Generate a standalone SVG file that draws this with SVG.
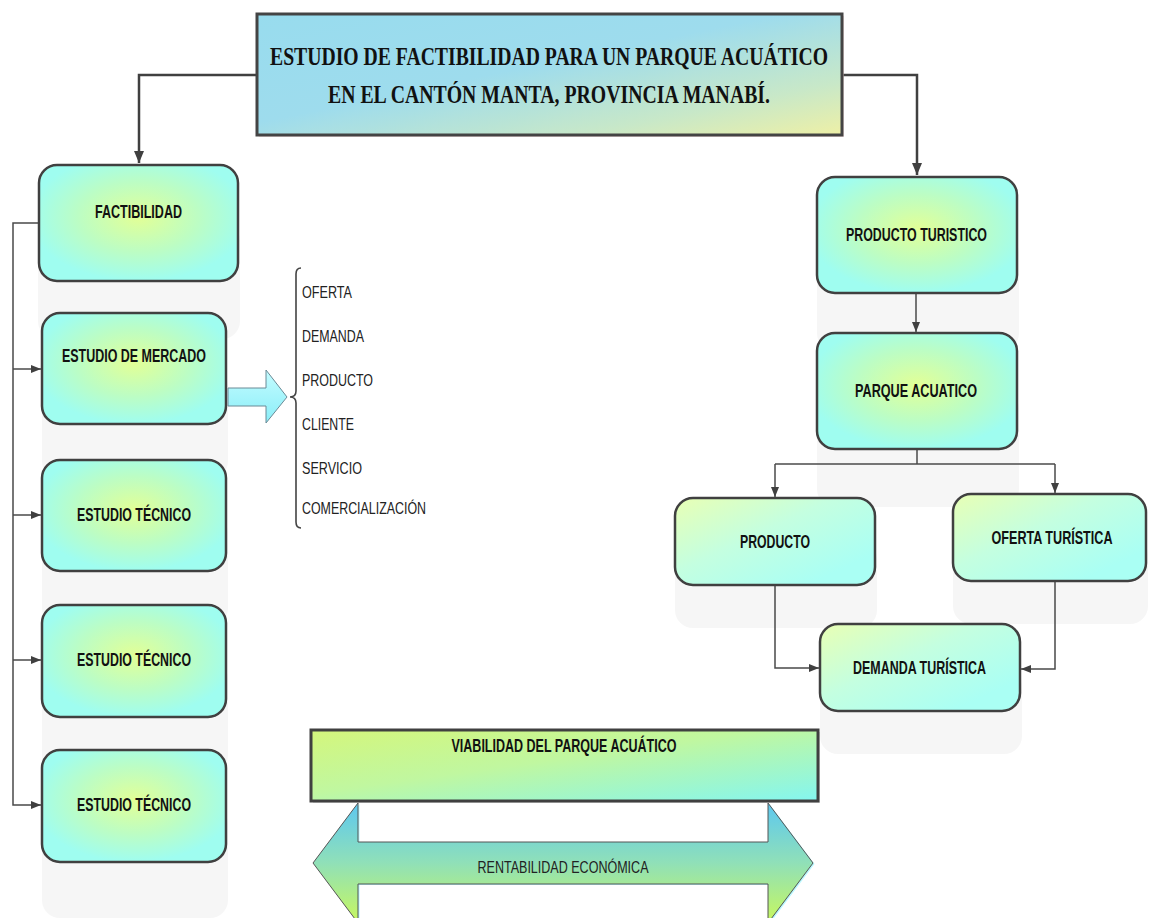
<svg xmlns="http://www.w3.org/2000/svg" width="1150" height="918" viewBox="0 0 1150 918">
  <defs>
    <radialGradient id="gRadial" cx="0.5" cy="0.45" r="0.55">
      <stop offset="0" stop-color="#e2ff96"/>
      <stop offset="0.55" stop-color="#bcfdc4"/>
      <stop offset="1" stop-color="#9ffdf0"/>
    </radialGradient>
    <linearGradient id="gLinear" x1="0" y1="0" x2="0.85" y2="0.8">
      <stop offset="0" stop-color="#e8ffb4"/>
      <stop offset="0.5" stop-color="#c4ffe0"/>
      <stop offset="1" stop-color="#aafff4"/>
    </linearGradient>
    <linearGradient id="gTitle" x1="0" y1="0" x2="1" y2="1">
      <stop offset="0" stop-color="#98dcee"/>
      <stop offset="0.45" stop-color="#9edced"/>
      <stop offset="0.78" stop-color="#c8e8c8"/>
      <stop offset="1" stop-color="#eef0a6"/>
    </linearGradient>
    <linearGradient id="gViab" x1="0" y1="0" x2="1" y2="1">
      <stop offset="0" stop-color="#d4f67c"/>
      <stop offset="0.45" stop-color="#c0f7a0"/>
      <stop offset="1" stop-color="#84f6f0"/>
    </linearGradient>
    <linearGradient id="gDouble" gradientUnits="userSpaceOnUse" x1="0" y1="803" x2="0" y2="923">
      <stop offset="0" stop-color="#5cc8f0"/>
      <stop offset="0.5" stop-color="#90e0b8"/>
      <stop offset="1" stop-color="#c8f85e"/>
    </linearGradient>
    <linearGradient id="gBlock" x1="0" y1="0" x2="0" y2="1">
      <stop offset="0" stop-color="#c4fcff"/>
      <stop offset="1" stop-color="#8aeef8"/>
    </linearGradient>
    <marker id="arrow" viewBox="0 0 10 10" refX="10" refY="5" markerWidth="10" markerHeight="10" markerUnits="userSpaceOnUse" orient="auto">
      <path d="M0,1 L10,5 L0,9 Z" fill="#404040"/>
    </marker>
    <marker id="arrowBig" viewBox="0 0 12 12" refX="12" refY="6" markerWidth="12" markerHeight="12" markerUnits="userSpaceOnUse" orient="auto">
      <path d="M0,1 L12,6 L0,11 Z" fill="#404040"/>
    </marker>
  </defs>
  <style>
    .shadow { fill: #f6f6f6; }
    .box { stroke: #404040; stroke-width: 2.5; }
    .rad { fill: url(#gRadial); }
    .lin { fill: url(#gLinear); }
    .lbl { font-family: "Liberation Sans Narrow", "Liberation Sans", Arial, sans-serif; font-weight: bold; font-size: 18px; fill: #111; text-anchor: middle; }
    .item { font-family: "Liberation Sans Narrow", "Liberation Sans", Arial, sans-serif; font-size: 17px; fill: #222; }
    .title { font-family: "Liberation Serif", "Times New Roman", serif; font-weight: bold; font-size: 25px; fill: #111; text-anchor: middle; }
    .conn { fill: none; stroke: #4a4a4a; stroke-width: 1.5; }
    .connThick { fill: none; stroke: #404040; stroke-width: 2.5; }
  </style>

  <!-- soft reflections beneath the boxes -->
  <g id="shadows">
    <rect class="shadow" x="38" y="223" width="202" height="116" rx="18"/>
    <rect class="shadow" x="42" y="368" width="186" height="111" rx="18"/>
    <rect class="shadow" x="42" y="515" width="186" height="111" rx="18"/>
    <rect class="shadow" x="42" y="661" width="186" height="112" rx="18"/>
    <rect class="shadow" x="42" y="806" width="186" height="112" rx="18"/>
    <rect class="shadow" x="817" y="235" width="202" height="116" rx="18"/>
    <rect class="shadow" x="817" y="391" width="202" height="116" rx="18"/>
    <rect class="shadow" x="675" y="541" width="202" height="87" rx="18"/>
    <rect class="shadow" x="953" y="537" width="195" height="87" rx="18"/>
    <rect class="shadow" x="820" y="667" width="202" height="87" rx="18"/>
  </g>

  <!-- connectors -->
  <g id="connectors">
    <path class="connThick" d="M257,75 H139 V163" marker-end="url(#arrowBig)"/>
    <path class="connThick" d="M842,75 H917 V175" marker-end="url(#arrowBig)"/>
    <path class="conn" d="M39,223 H13 V805 H41" marker-end="url(#arrow)"/>
    <path class="conn" d="M13,369 H41" marker-end="url(#arrow)"/>
    <path class="conn" d="M13,515 H41" marker-end="url(#arrow)"/>
    <path class="conn" d="M13,660 H41" marker-end="url(#arrow)"/>
    <path class="conn" d="M916,293 V332" marker-end="url(#arrow)"/>
    <path class="conn" d="M917,449 V464"/>
    <path class="conn" d="M775,464 H1055"/>
    <path class="conn" d="M775,464 V497" marker-end="url(#arrow)"/>
    <path class="conn" d="M1055,464 V493" marker-end="url(#arrow)"/>
    <path class="conn" d="M775,585 V668 H819" marker-end="url(#arrow)"/>
    <path class="conn" d="M1055,581 V669 H1021" marker-end="url(#arrow)"/>
  </g>

  <!-- title -->
  <g id="title">
    <rect x="259" y="16" width="585" height="121" fill="#f2d0d0" opacity="0.6"/>
    <rect x="257" y="14" width="585" height="121" fill="url(#gTitle)" stroke="#444" stroke-width="3"/>
    <text class="title" x="549" y="65" textLength="558" lengthAdjust="spacingAndGlyphs">ESTUDIO DE FACTIBILIDAD PARA UN PARQUE ACUÁTICO</text>
    <text class="title" x="549" y="103" textLength="442" lengthAdjust="spacingAndGlyphs">EN EL CANTÓN MANTA, PROVINCIA MANABÍ.</text>
  </g>

  <!-- left column -->
  <g id="factibilidad">
    <rect class="box rad" x="39" y="165" width="199" height="116" rx="18"/>
    <text class="lbl" x="138.5" y="218" textLength="87" lengthAdjust="spacingAndGlyphs">FACTIBILIDAD</text>
  </g>
  <g id="estudio-mercado">
    <rect class="box rad" x="42" y="313" width="184" height="111" rx="18"/>
    <text class="lbl" x="134" y="362" textLength="144" lengthAdjust="spacingAndGlyphs">ESTUDIO DE MERCADO</text>
  </g>
  <g id="estudio-tecnico-1">
    <rect class="box rad" x="42" y="460" width="184" height="111" rx="18"/>
    <text class="lbl" x="134" y="521" textLength="114" lengthAdjust="spacingAndGlyphs">ESTUDIO TÉCNICO</text>
  </g>
  <g id="estudio-tecnico-2">
    <rect class="box rad" x="42" y="605" width="184" height="112" rx="18"/>
    <text class="lbl" x="134" y="666" textLength="114" lengthAdjust="spacingAndGlyphs">ESTUDIO TÉCNICO</text>
  </g>
  <g id="estudio-tecnico-3">
    <rect class="box rad" x="42" y="750" width="184" height="112" rx="18"/>
    <text class="lbl" x="134" y="811" textLength="114" lengthAdjust="spacingAndGlyphs">ESTUDIO TÉCNICO</text>
  </g>

  <!-- market study breakdown -->
  <g id="mercado-arrow">
    <polygon points="228,388 266,388 266,370 287,397 266,423 266,406 228,406" fill="url(#gBlock)" stroke="#6a8a96" stroke-width="1"/>
  </g>
  <g id="mercado-items">
    <path d="M301,268 Q296,268 296,274 V391 Q296,397 290,397 Q296,397 296,403 V522 Q296,528 301,528" fill="none" stroke="#444" stroke-width="1.6"/>
    <text class="item" x="302" y="298" textLength="50" lengthAdjust="spacingAndGlyphs">OFERTA</text>
    <text class="item" x="302" y="342" textLength="62" lengthAdjust="spacingAndGlyphs">DEMANDA</text>
    <text class="item" x="302" y="386" textLength="71" lengthAdjust="spacingAndGlyphs">PRODUCTO</text>
    <text class="item" x="302" y="430" textLength="52" lengthAdjust="spacingAndGlyphs">CLIENTE</text>
    <text class="item" x="302" y="474" textLength="60" lengthAdjust="spacingAndGlyphs">SERVICIO</text>
    <text class="item" x="302" y="514" textLength="124" lengthAdjust="spacingAndGlyphs">COMERCIALIZACIÓN</text>
  </g>

  <!-- right column -->
  <g id="producto-turistico">
    <rect class="box rad" x="817" y="177" width="200" height="116" rx="18"/>
    <text class="lbl" x="916.5" y="241" textLength="141" lengthAdjust="spacingAndGlyphs">PRODUCTO TURISTICO</text>
  </g>
  <g id="parque-acuatico">
    <rect class="box rad" x="817" y="333" width="200" height="116" rx="18"/>
    <text class="lbl" x="916" y="397" textLength="122" lengthAdjust="spacingAndGlyphs">PARQUE ACUATICO</text>
  </g>
  <g id="producto">
    <rect class="box lin" x="675" y="498" width="200" height="87" rx="18"/>
    <text class="lbl" x="775" y="548" textLength="70" lengthAdjust="spacingAndGlyphs">PRODUCTO</text>
  </g>
  <g id="oferta-turistica">
    <rect class="box lin" x="953" y="494" width="193" height="87" rx="18"/>
    <text class="lbl" x="1052" y="544" font-size="16" textLength="121" lengthAdjust="spacingAndGlyphs">OFERTA TURÍSTICA</text>
  </g>
  <g id="demanda-turistica">
    <rect class="box lin" x="820" y="624" width="200" height="87" rx="18"/>
    <text class="lbl" x="919.5" y="674" textLength="133" lengthAdjust="spacingAndGlyphs">DEMANDA TURÍSTICA</text>
  </g>

  <!-- viability and profitability -->
  <g id="viabilidad">
    <rect x="313" y="732" width="507" height="71" fill="#c8c8c8" opacity="0.6"/>
    <rect x="311" y="730" width="507" height="71" fill="url(#gViab)" stroke="#404040" stroke-width="3"/>
    <text class="lbl" x="564" y="752" textLength="225" lengthAdjust="spacingAndGlyphs">VIABILIDAD DEL PARQUE ACUÁTICO</text>
  </g>
  <g id="rentabilidad">
    <polygon points="314,863 358,803 358,842 768,842 768,803 813,863 768,923 768,884 358,884 358,923" fill="#b8f8ff" transform="translate(1.5,1)"/>
    <polygon points="313,863 358,803 358,842 768,842 768,803 813,863 768,923 768,884 358,884 358,923" fill="url(#gDouble)" stroke="#555" stroke-width="1"/>
    <text class="item" x="563" y="873" text-anchor="middle" textLength="171" lengthAdjust="spacingAndGlyphs">RENTABILIDAD ECONÓMICA</text>
  </g>
</svg>
